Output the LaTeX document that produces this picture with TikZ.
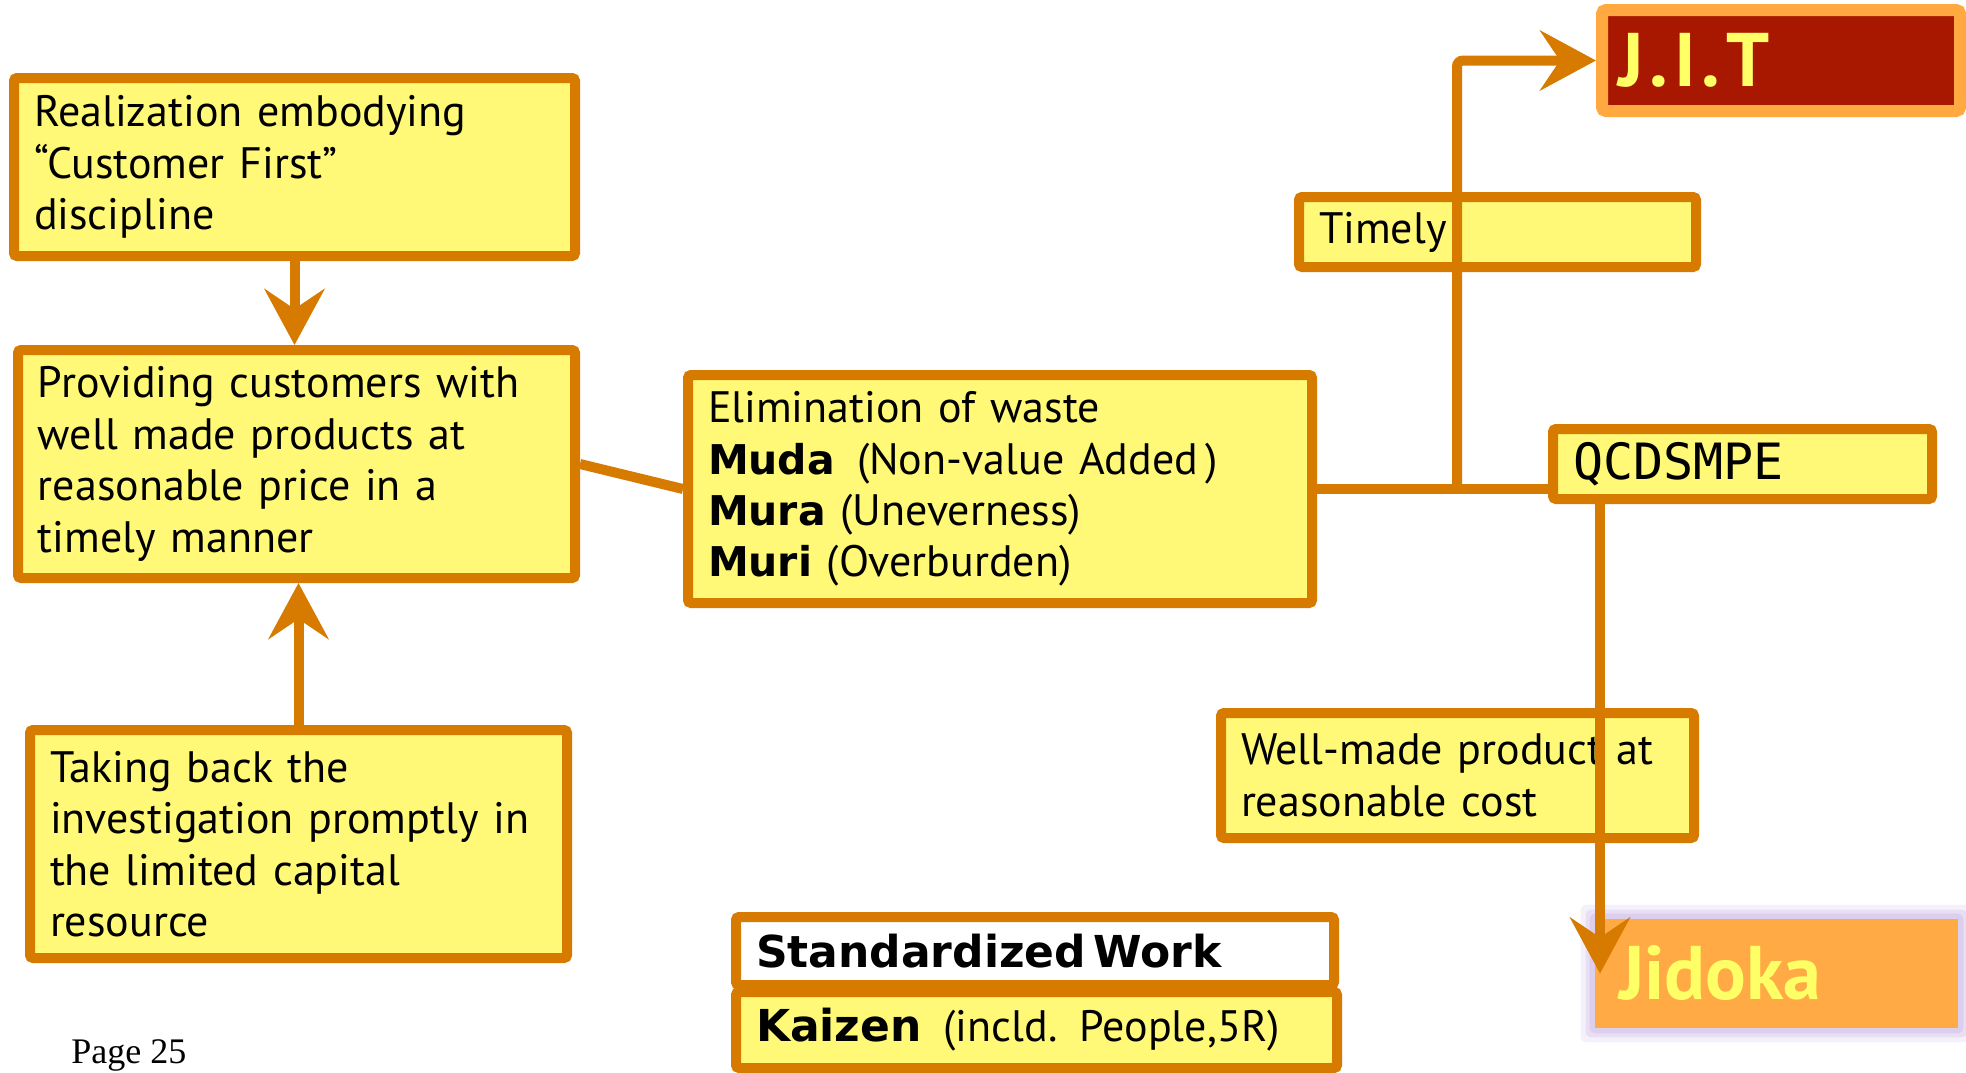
\documentclass[tikz,border=0pt]{standalone}
\usepackage{fontspec}
\setmainfont{PT Sans}
\newfontfamily\heavy{DejaVu Sans}
\newfontfamily\mono{DejaVu Sans Mono}
\newfontfamily\pagefont{Liberation Serif}
\usetikzlibrary{arrows.meta,backgrounds}
\definecolor{edge}{HTML}{D67A00}
\definecolor{pad}{HTML}{FFF977}
\definecolor{jitred}{HTML}{A81800}
\definecolor{lightorange}{HTML}{FFA940}
\definecolor{jidorange}{HTML}{FFAA44}
\definecolor{glowc}{HTML}{D2C0EA}
\definecolor{signy}{HTML}{FFFF66}
\begin{document}
\begin{tikzpicture}[x=0.5pt,y=-0.5pt,
  box/.style={draw=edge, fill=pad, line width=5pt, rounded corners=1.5pt,
    inner xsep=10pt, inner ysep=0pt, align=left,
    font=\fontsize{22}{25.7}\selectfont},
  flow/.style={draw=edge, line width=5pt},
  arrowline/.style={flow, -{Stealth[length=28pt,width=30pt,inset=10pt]}},
]
\useasboundingbox (0,0) rectangle (1966,1072);

% left column
\node[box, minimum width=280.5pt, minimum height=89pt, text width=260.5pt] (real) at (294.5,167)
  {Realization embodying\\“Customer First”\\discipline};
\node[box, minimum width=278.5pt, minimum height=114pt, text width=258.5pt] (prov) at (296.5,464)
  {Providing customers with\\well made products at\\reasonable price in a\\timely manner};
\node[box, minimum width=268.5pt, minimum height=114pt, text width=248.5pt] (take) at (298.5,844)
  {Taking back the\\investigation promptly in\\the limited capital\\resource};

% centre
\node[box, minimum width=312pt, minimum height=114pt, text width=292pt] (elim) at (1000,489)
  {Elimination of waste\\{\heavy\bfseries\fontsize{20.5}{25.7}\selectfont Muda}\ \,(Non-value Added\,)\\{\heavy\bfseries\fontsize{20.5}{25.7}\selectfont Mura} (Uneverness)\\{\heavy\bfseries\fontsize{20.5}{25.7}\selectfont Muri} (Overburden)};
\node[box, fill=white, minimum width=299pt, minimum height=34pt, text width=279pt,
  font=\heavy\bfseries\fontsize{22}{26}\selectfont] (std) at (1035,951)
  {Standardized\,Work};
\node[box, minimum width=300.5pt, minimum height=38pt, text width=280.5pt] (kai) at (1036.5,1030)
  {{\heavy\bfseries\fontsize{22}{26}\selectfont Kaizen}\ \,(incld. People,5R)};

% right column
\node[box, minimum width=198.5pt, minimum height=35pt, text width=178.5pt] (timely) at (1497.5,232)
  {Timely};
\node[box, minimum width=189.5pt, minimum height=35pt, text width=169.5pt,
  font=\mono\fontsize{25}{28}\selectfont] (qcd) at (1742.5,464) {QCDSMPE};
\node[box, minimum width=236.5pt, minimum height=62.5pt, text width=216.5pt] (well) at (1457.5,775.5)
  {Well-made product at\\reasonable cost};

\node[draw=lightorange, fill=jitred, line width=6pt, rounded corners=2pt,
  minimum width=179pt, minimum height=50.5pt, inner xsep=8pt, inner ysep=0pt,
  text width=163pt, align=left, text=signy, font=\bfseries\fontsize{38}{40}\selectfont]
  (jit) at (1781,60.5) {J\kern3pt.\kern3ptI\kern3pt.\kern3ptT};
\node[fill=jidorange, minimum width=181.5pt, minimum height=54.5pt, inner xsep=12pt, inner ysep=0pt,
  text width=157.5pt, align=left, text=signy, font=\bfseries\fontsize{38}{40}\selectfont]
  (jid) at (1776.5,973.5) {Jidoka};

\node[anchor=base west, inner sep=0pt, font=\pagefont\fontsize{18}{20}\selectfont] (pg) at (71,1063) {Page 25};

% connectors
\draw[arrowline] (real.south) -- (real.south |- prov.north);
\draw[arrowline] (take.north) -- (take.north |- prov.south);
\draw[flow] (prov.east) -- (elim.west);
\draw[flow] (elim.east) -- (elim.east -| qcd.west);
\coordinate (split) at (1457,489);
\draw[arrowline, rounded corners=3pt] (split) |- (jit.west);
\coordinate (drop) at ([xshift=26pt]qcd.south west);
\draw[arrowline] (drop) -- (drop |- jid.west);

% page and soft halo round Jidoka
\begin{scope}[on background layer]
  \fill[white] (0,0) rectangle (1966,1072);
  \foreach \g/\o in {7/0.22,4.5/0.35,2.5/0.5}
    \fill[glowc, opacity=\o, rounded corners=3pt]
      ([shift={(-\g pt,\g pt)}]jid.north west) rectangle ([shift={(\g pt,-\g pt)}]jid.south east);
\end{scope}
\end{tikzpicture}
\end{document}
